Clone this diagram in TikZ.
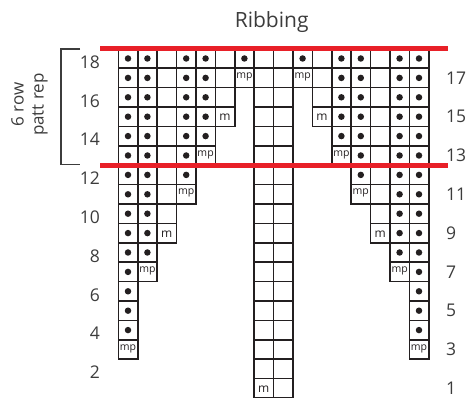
\documentclass[tikz,border=0pt]{standalone}
\usepackage{fontspec}
\setmainfont{Open Sans}
\definecolor{chartred}{RGB}{232,32,40}
\definecolor{ink}{RGB}{35,31,32}
\definecolor{labelgray}{RGB}{60,60,60}
\begin{document}
\begin{tikzpicture}[x=1pt,y=-1pt,
  gridcell/.style={draw=ink,line width=1.6pt},
  knitdot/.style={circle,fill=ink,inner sep=0pt,minimum size=6.5pt},
  mptext/.style={font=\fontsize{10.5}{12}\selectfont,text=ink,inner sep=0pt},
  mtext/.style={font=\fontsize{12}{14}\selectfont,text=ink,inner sep=0pt},
  rownum/.style={font=\fontsize{17.5}{20}\selectfont,text=labelgray,inner sep=0pt},
  redline/.style={draw=chartred,line width=5pt},
  bracket/.style={draw=labelgray,line width=1.2pt}]
\useasboundingbox (0,0) rectangle (467,398);
\def\W{19.4}
\def\XO{118.3}
% side cells (left and mirrored right)
\foreach \r/\n in {18/7,17/7,16/6,15/6,14/5,13/5,12/4,11/4,10/3,9/3,8/2,7/2,6/1,5/1,4/1,3/1}{
  \foreach \c in {1,...,\n}{
    \pgfmathsetmacro\xa{\XO+(\c-1)*\W}
    \pgfmathsetmacro\xb{\XO+(16-\c)*\W}
    \pgfmathsetmacro\ya{398-\r*\W}
    \draw[gridcell] (\xa,\ya) rectangle ++(\W,\W);
    \draw[gridcell] (\xb,\ya) rectangle ++(\W,\W);
  }
}
% centre strip
\foreach \r in {1,...,18}{
  \pgfmathsetmacro\ya{398-\r*\W}
  \pgfmathsetmacro\xa{\XO+7*\W}
  \pgfmathsetmacro\xb{\XO+8*\W}
  \draw[gridcell] (\xa,\ya) rectangle ++(\W,\W);
  \draw[gridcell] (\xb,\ya) rectangle ++(\W,\W);
}
% dots
\foreach \r/\cols in {18/{1,2,4,5,7},17/{1,2,4,5},16/{1,2,4,5},15/{1,2,4,5},14/{1,2,4,5},13/{1,2,4},12/{1,2,4},11/{1,2},10/{1,2},9/{1,2},8/{1,2},7/{1},6/{1},5/{1},4/{1}}{
  \foreach \c in \cols {
    \pgfmathsetmacro\xa{\XO+(\c-0.5)*\W}
    \pgfmathsetmacro\xb{\XO+(16.5-\c)*\W}
    \pgfmathsetmacro\ya{398-(\r-0.5)*\W}
    \node[knitdot] (dotL-\c-\r) at (\xa,\ya) {};
    \node[knitdot] (dotR-\c-\r) at (\xb,\ya) {};
  }
}
% mp cells
\foreach \c/\r in {7/17,5/13,4/11,2/7,1/3}{
  \pgfmathsetmacro\xa{\XO+(\c-0.5)*\W}
  \pgfmathsetmacro\xb{\XO+(16.5-\c)*\W}
  \pgfmathsetmacro\ya{398-(\r-0.5)*\W-1}
  \node[mptext] (mpL-\c-\r) at (\xa,\ya) {mp};
  \node[mptext] (mpR-\c-\r) at (\xb,\ya) {mp};
}
% m cells
\foreach \c/\r in {6/15,3/9}{
  \pgfmathsetmacro\xa{\XO+(\c-0.5)*\W}
  \pgfmathsetmacro\xb{\XO+(16.5-\c)*\W}
  \pgfmathsetmacro\ya{398-(\r-0.5)*\W+1}
  \node[mtext] (mL-\c-\r) at (\xa,\ya) {m};
  \node[mtext] (mR-\c-\r) at (\xb,\ya) {m};
}
\pgfmathsetmacro\xa{\XO+7.5*\W}
\pgfmathsetmacro\ya{398-0.5*\W+1}
\node[mtext] (mC) at (\xa,\ya) {m};
% row numbers
\foreach \r in {2,4,...,18}{
  \pgfmathsetmacro\ya{398-(\r-0.5)*\W+3.5}
  \node[rownum,anchor=east] (numL\r) at (100,\ya) {\r};
}
\foreach \r in {1,3,...,17}{
  \pgfmathsetmacro\ya{398-(\r-0.5)*\W}
  \node[rownum,anchor=west] (numR\r) at (446,\ya) {\r};
}
% red repeat lines
\coordinate (redTL) at (100,49);
\coordinate (redTR) at (448,49);
\coordinate (redBL) at (100,165.2);
\coordinate (redBR) at (448,165.2);
\draw[redline] (redTL) -- (redTR);
\draw[redline] (redBL) -- (redBR);
% bracket
\coordinate (brT) at (80,49);
\coordinate (brB) at (80,164.3);
\draw[bracket] (brT) -- (61,49) -- (61,164.3) -- (brB);
\node[rotate=90,align=center,font=\fontsize{17}{20}\selectfont,text=labelgray,inner sep=0pt] (reptext) at (29.5,104.5) {6 row\\patt rep};
% title
\node[font=\fontsize{21}{24}\selectfont,text=labelgray,anchor=base,inner sep=0pt] (title) at (271.7,28) {Ribbing};
\end{tikzpicture}
\end{document}
